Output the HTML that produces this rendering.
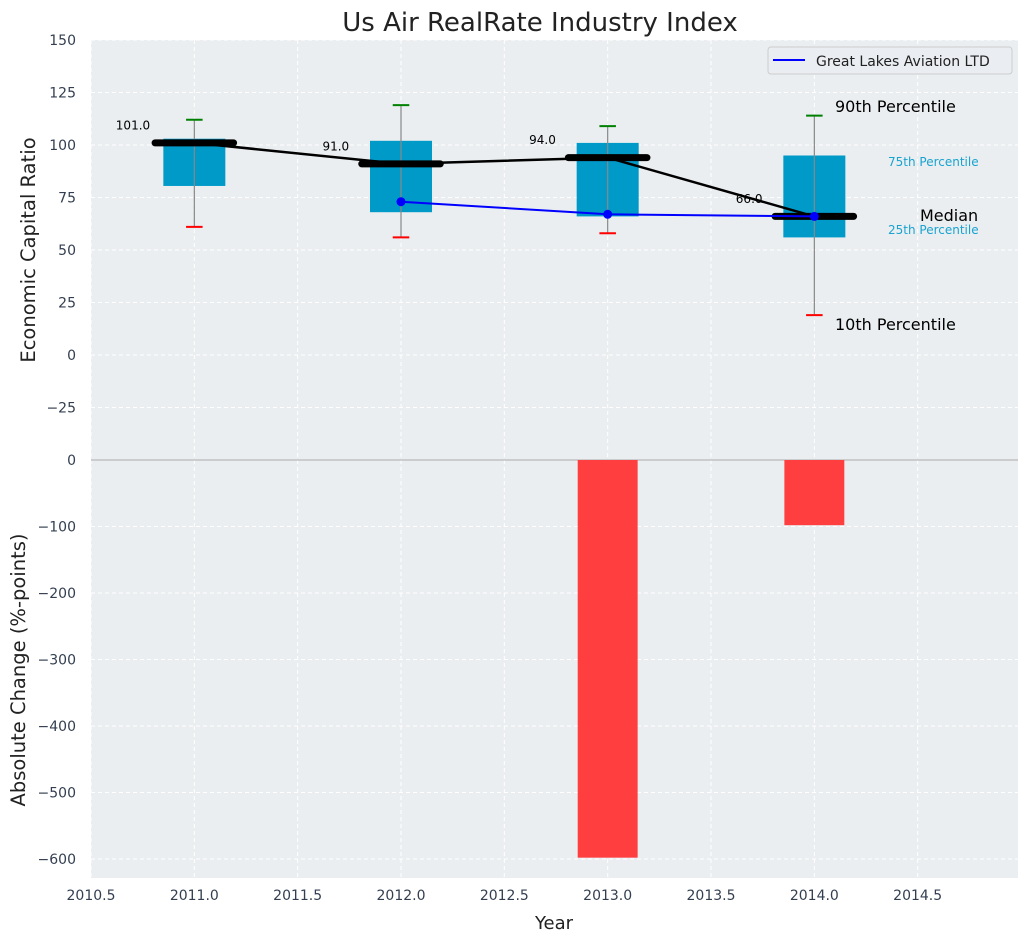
<!DOCTYPE html>
<html><head><meta charset="utf-8"><style>
body{margin:0;background:#fff;font-family:"Liberation Sans","DejaVu Sans",sans-serif}
svg text{font-family:"DejaVu Sans","Liberation Sans",sans-serif}
</style></head><body>
<svg id="c" width="1029" height="942" xmlns="http://www.w3.org/2000/svg"></svg>
<script>
const years=[2011,2012,2013,2014];
const p10=[61,56,58,19];
const p25=[80.5,68,66,56];
const med=[101,91,94,66];
const p75=[103,102,101,95];
const p90=[112,119,109,114];
const compYears=[2012,2013,2014];
const compVals=[73,67,66];
const chgYears=[2013,2014];
const chgVals=[-598,-98];
const topTicks=[150,125,100,75,50,25,0,-25];
const botTicks=[0,-100,-200,-300,-400,-500,-600];
const xTicks=[2010.5,2011,2011.5,2012,2012.5,2013,2013.5,2014,2014.5];

const NS="http://www.w3.org/2000/svg",svg=document.getElementById('c');
const L=91,R=1018;
const X=v=>L+(v-2010.5)*206.67;
const Y1=v=>355-v*2.1;
const Y2=v=>460-v*0.665;
function el(t,a,n,txt){const e=document.createElementNS(NS,t);for(const k in a)e.setAttribute(k,a[k]);


if(txt!==undefined)e.textContent=txt;svg.appendChild(e);return e;}
const mn=v=>v<0?'\u2212'+(-v):String(v);
el('rect',{x:L,y:40,width:R-L,height:420,fill:'#eaeef0'},'top-plot-area');
el('rect',{x:L,y:460,width:R-L,height:418,fill:'#eaeef0'},'bottom-plot-area');
xTicks.forEach(t=>{
 el('line',{x1:X(t),x2:X(t),y1:40,y2:878,stroke:'#fff','stroke-dasharray':'4,3'},'x-grid');
 el('text',{x:X(t),y:900,'text-anchor':'middle','font-size':14,fill:'#333f50'},'x-tick-label',t.toFixed(1));
});
topTicks.forEach(t=>{
 el('line',{x1:L,x2:R,y1:Y1(t),y2:Y1(t),stroke:'#fff','stroke-dasharray':'4,3'},'y-grid-top');
 el('text',{x:76,y:Y1(t)+5,'text-anchor':'end','font-size':14,fill:'#333f50'},'y-tick-label-top',mn(t));
});
botTicks.forEach(t=>{
 el('line',{x1:L,x2:R,y1:Y2(t),y2:Y2(t),stroke:'#fff','stroke-dasharray':'4,3'},'y-grid-bottom');
 el('text',{x:76,y:Y2(t)+5,'text-anchor':'end','font-size':14,fill:'#333f50'},'y-tick-label-bottom',mn(t));
});
el('line',{x1:L,x2:R,y1:460,y2:460,stroke:'#aaa'},'zero-line');
years.forEach((y,i)=>{
 const x=X(y);
 el('rect',{x:X(y-0.15),y:Y1(p75[i]),width:X(y+0.15)-X(y-0.15),height:Y1(p25[i])-Y1(p75[i]),fill:'#009ac9'},'iqr-box');
 el('line',{x1:x,x2:x,y1:Y1(p90[i]),y2:Y1(p10[i]),stroke:'#888','stroke-width':1.2},'whisker');
 el('line',{x1:X(y-0.04),x2:X(y+0.04),y1:Y1(p90[i]),y2:Y1(p90[i]),stroke:'green','stroke-width':2},'p90-cap');
 el('line',{x1:X(y-0.04),x2:X(y+0.04),y1:Y1(p10[i]),y2:Y1(p10[i]),stroke:'red','stroke-width':2},'p10-cap');
});
el('polyline',{points:years.map((y,i)=>X(y)+','+Y1(med[i])).join(' '),fill:'none',stroke:'#000','stroke-width':2.5},'median-line');
years.forEach((y,i)=>{
 el('line',{x1:X(y-0.19),x2:X(y+0.19),y1:Y1(med[i]),y2:Y1(med[i]),stroke:'#000','stroke-width':7,'stroke-linecap':'round'},'median-bar');
 el('text',{x:X(y-0.38),y:Y1(med[i]+6.5),'font-size':12,fill:'#000'},'median-label',med[i].toFixed(1));
});
el('polyline',{points:compYears.map((y,i)=>X(y)+','+Y1(compVals[i])).join(' '),fill:'none',stroke:'blue','stroke-width':2},'company-line');
compYears.forEach((y,i)=>el('circle',{cx:X(y),cy:Y1(compVals[i]),r:4.5,fill:'blue'},'company-point'));
chgYears.forEach((y,i)=>el('rect',{x:X(y-0.145),y:Y2(0),width:X(y+0.145)-X(y-0.145),height:Y2(chgVals[i])-Y2(0),fill:'#ff3f3f'},'change-bar'));
el('text',{x:835,y:112,'font-size':16,fill:'#000'},'p90-annotation','90th Percentile');
el('text',{x:835,y:330,'font-size':16,fill:'#000'},'p10-annotation','10th Percentile');
el('text',{x:920,y:221,'font-size':16,fill:'#000'},'median-annotation','Median');
el('text',{x:888,y:166,'font-size':12,fill:'#1aa3d0'},'p75-annotation','75th Percentile');
el('text',{x:888,y:234,'font-size':12,fill:'#1aa3d0'},'p25-annotation','25th Percentile');
el('rect',{x:768,y:47,width:244,height:27,rx:3,fill:'#eaeef2',stroke:'#ccc'},'legend-box');
el('line',{x1:773,x2:805,y1:60,y2:60,stroke:'blue','stroke-width':2},'legend-line');
el('text',{x:816,y:66,'font-size':14,fill:'#222'},'legend-label','Great Lakes Aviation LTD');
el('text',{x:540,y:31,'text-anchor':'middle','font-size':26,fill:'#222'},'chart-title','Us Air RealRate Industry Index');
el('text',{x:554,y:929,'text-anchor':'middle','font-size':18,fill:'#222'},'x-axis-title','Year');
el('text',{x:35,y:250,'text-anchor':'middle','font-size':19.5,fill:'#222',transform:'rotate(-90 35 250)'},'y-axis-title-top','Economic Capital Ratio');
el('text',{x:25,y:670,'text-anchor':'middle','font-size':19.5,fill:'#222',transform:'rotate(-90 25 670)'},'y-axis-title-bottom','Absolute Change (%-points)');
</script>
</body></html>
